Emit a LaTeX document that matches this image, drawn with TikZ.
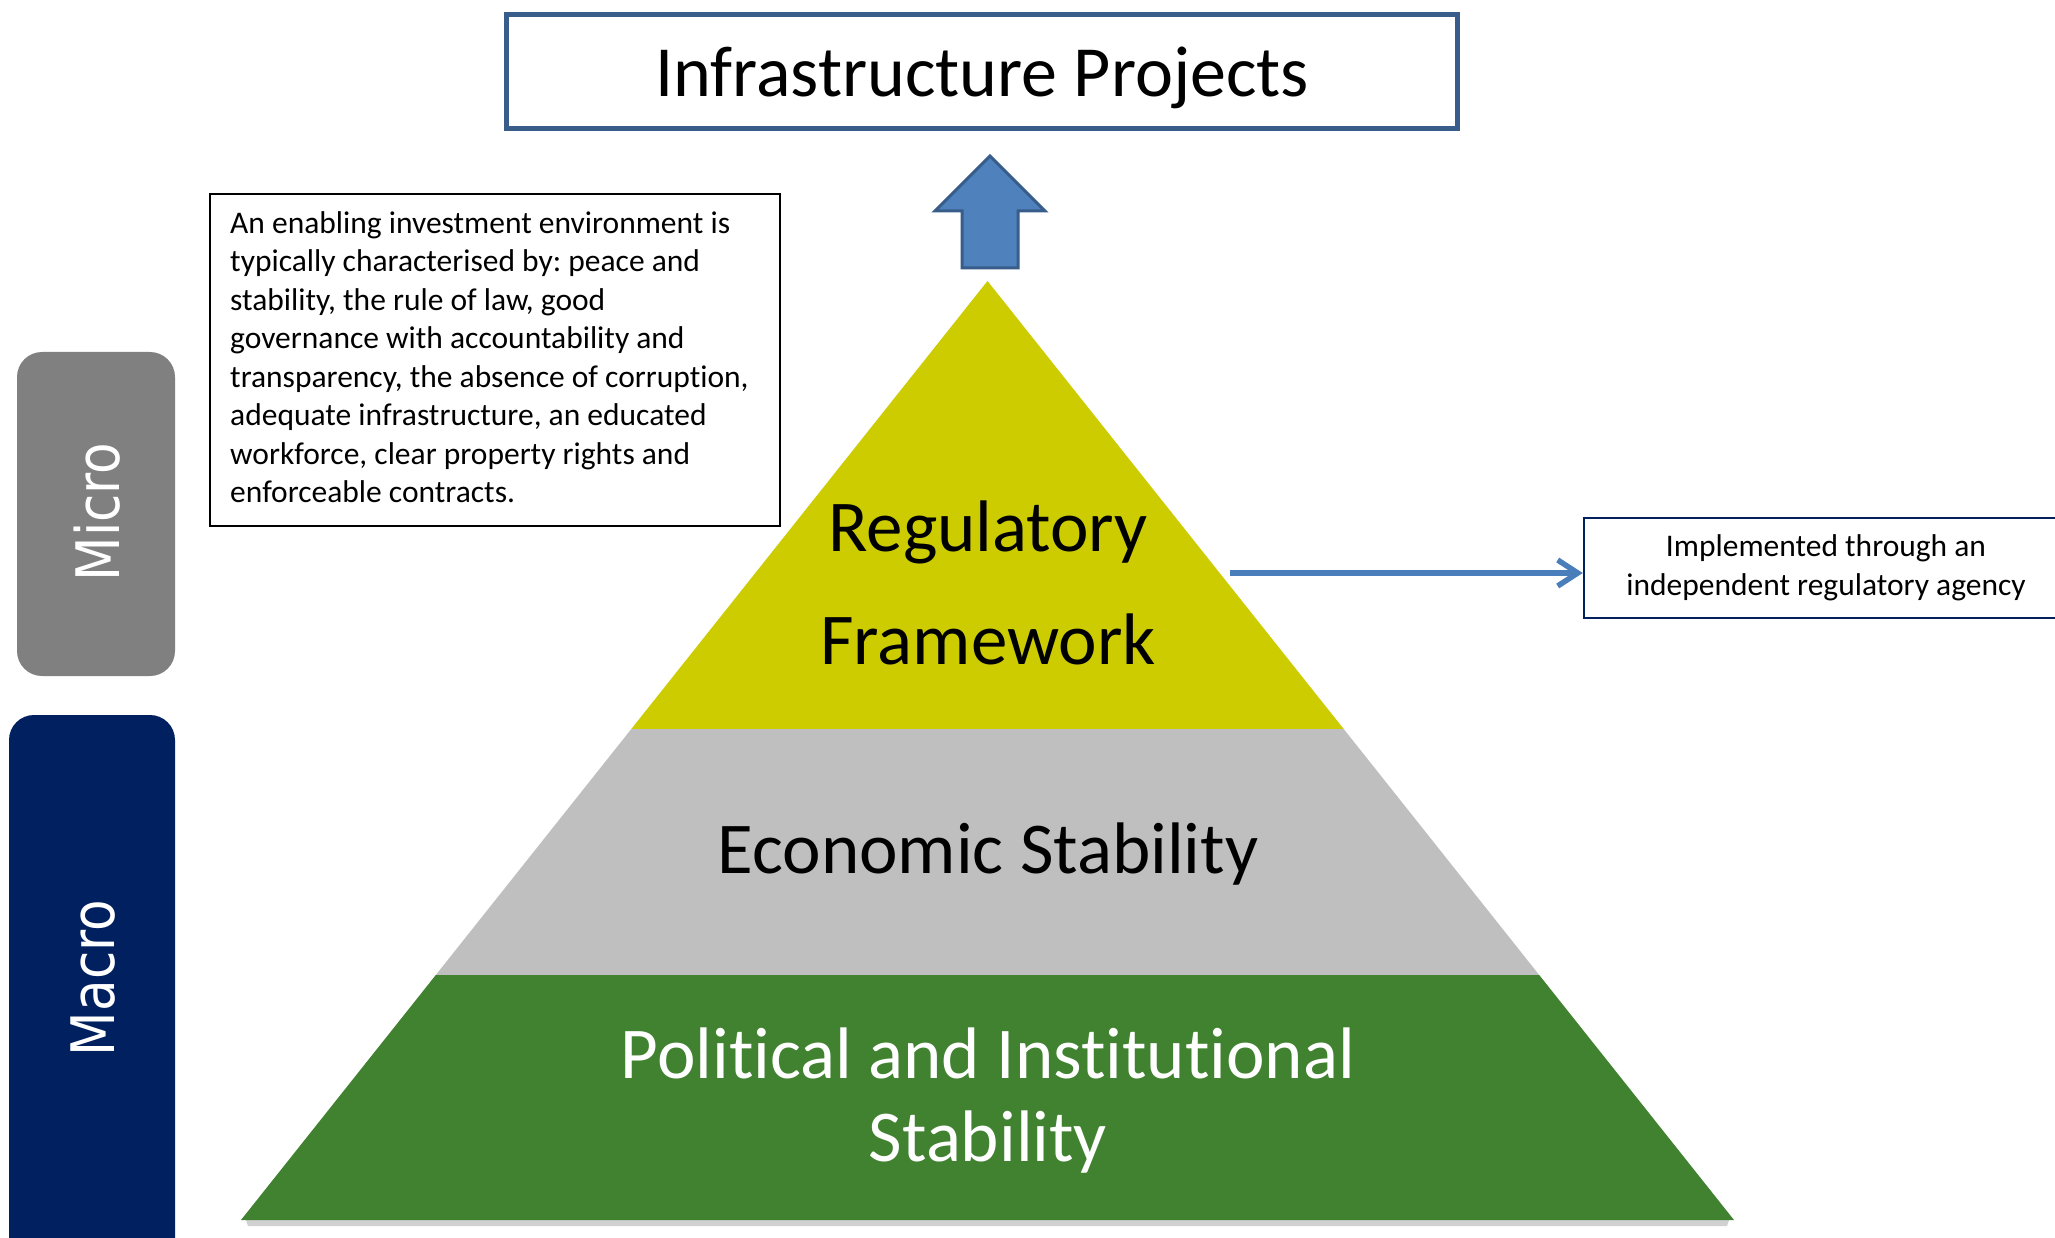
\documentclass[tikz,border=0pt]{standalone}
\usepackage{fontspec}
\setmainfont{Carlito}[Ligatures={NoCommon,NoContextual}]
\newfontfamily\sidefont{DejaVu Sans}
\usetikzlibrary{arrows.meta}
\frenchspacing
\definecolor{pyrYellow}{RGB}{204,204,0}
\definecolor{pyrGray}{RGB}{191,191,191}
\definecolor{pyrGreen}{RGB}{65,130,48}
\definecolor{titleBlue}{RGB}{56,93,138}
\definecolor{arrowFill}{RGB}{79,129,189}
\definecolor{lineBlue}{RGB}{74,126,187}
\definecolor{navyBox}{RGB}{0,32,96}
\definecolor{microGray}{RGB}{128,128,128}
\begin{document}
\begin{tikzpicture}[x=1pt,y=-1pt,
  bigtext/.style={font=\fontsize{73}{88}\selectfont, anchor=base, inner sep=0pt},
  smalltext/.style={font=\fontsize{31.5}{38.5}\selectfont},
  sidebox/.style={rounded corners=25pt, inner sep=0pt},
  sidelabel/.style={font=\sidefont\fontsize{60}{60}\selectfont, text=white, rotate=90, inner sep=0pt},
]
\useasboundingbox[fill=white] (0,0) rectangle (2055,1238);

% pyramid shadow
\fill[black!18] (246,1220) -- (1729,1220) -- (1727,1226) -- (248,1226) -- cycle;
% pyramid layers
\fill[pyrYellow] (987.5,281) -- (1343.7,729) -- (631.3,729) -- cycle;
\fill[pyrGray] (631.3,729) -- (1343.7,729) -- (1539.2,975) -- (435.8,975) -- cycle;
\fill[pyrGreen] (435.8,975) -- (1539.2,975) -- (1734,1220) -- (241,1220) -- cycle;

\node[bigtext] (reg1) at (988,551) {Regulatory};
\node[bigtext] (reg2) at (988,664) {Framework};
\node[bigtext] (econ) at (988,873) {Economic Stability};
\node[bigtext, text=white] (pol1) at (988,1078) {Political and Institutional};
\node[bigtext, text=white] (pol2) at (988,1161) {Stability};

% title
\node[draw=titleBlue, line width=5pt, minimum width=951pt, minimum height=114pt,
      text height=60pt, text depth=10pt, font=\fontsize{72}{86}\selectfont] (title) at (982,72) {Infrastructure Projects};

% up block arrow
\filldraw[fill=arrowFill, draw=titleBlue, line width=3pt, line join=miter]
  (990,156) -- (1045,211) -- (1018,211) -- (1018,268) -- (962,268) -- (962,211) -- (935,211) -- cycle;

% description box
\node[draw=black, line width=2pt, minimum width=570pt, minimum height=332pt, inner sep=0pt] (env) at (495,360) {};
\node[smalltext, anchor=west, align=left, inner sep=0pt] (envtext) at (230,357)
 {An enabling investment environment is\\typically characterised by: peace and\\stability, the rule of law, good\\governance with accountability and\\transparency, the absence of corruption,\\adequate infrastructure, an educated\\workforce, clear property rights and\\enforceable contracts.};

% implemented box
\node[draw=navyBox, line width=2.5pt, minimum width=484pt, minimum height=100pt, align=center, smalltext] (impl) at (1826,568)
 {Implemented through an\\independent regulatory agency};
\coordinate (regR) at (1230,573);
\draw[lineBlue, line width=5.5pt, -{Straight Barb[length=20pt, width=26pt]}] (regR) -- (regR -| impl.west);

% side bars
\node[fill=microGray, sidebox, minimum width=158pt, minimum height=324pt] (microbox) at (96,514) {};
\node[sidelabel] (microlbl) at (97,512) {\scalebox{0.86}[1]{Micro}};
\node[fill=navyBox, sidebox, minimum width=166pt, minimum height=600pt] (macrobox) at (92,1015) {};
\node[sidelabel] (macrolbl) at (93,978) {\scalebox{0.86}[1]{Macro}};
\end{tikzpicture}
\end{document}
